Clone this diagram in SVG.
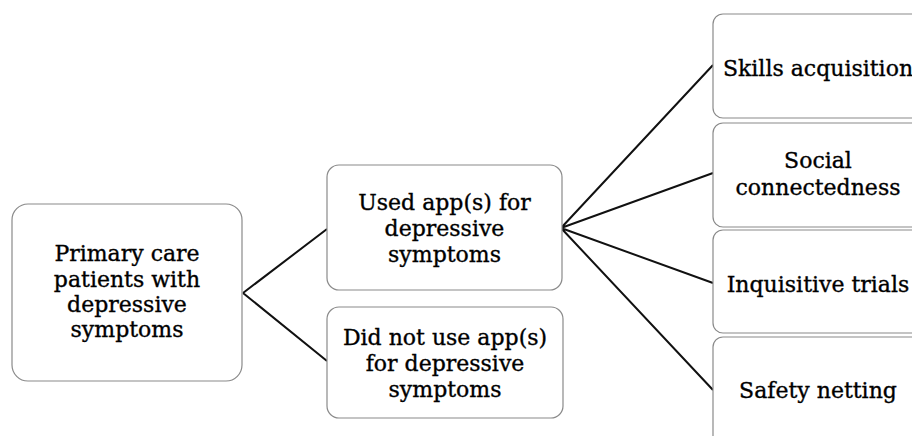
<svg xmlns="http://www.w3.org/2000/svg" width="912" height="436" viewBox="0 0 912 436">
<style>
.box{fill:#fff;stroke:#8a8a8a;stroke-width:1.2}
.t{font-family:"DejaVu Serif","Liberation Serif",serif;font-size:22px;fill:#000;stroke:#000;stroke-width:0.35;text-anchor:middle}
.c{stroke:#111;stroke-width:2;fill:none}
</style>
<rect width="912" height="436" fill="#fff"/>
<g id="connectors">
<path class="c" d="M243 293 L327 229 M243 293 L327 361"/>
<path class="c" d="M561 228 L713 65 M561 228 L713 173 M561 228 L713 283 M561 228 L713 390"/>
</g>
<g id="n1"><rect class="box" x="12" y="204" width="230" height="177" rx="16"/>
<text class="t" x="127" y="261">Primary care</text><text class="t" x="127" y="287">patients with</text><text class="t" x="127" y="312">depressive</text><text class="t" x="127" y="337">symptoms</text></g>
<g id="n2"><rect class="box" x="327" y="165" width="235" height="125" rx="12"/>
<text class="t" x="444.5" y="210">Used app(s) for</text><text class="t" x="444.5" y="236">depressive</text><text class="t" x="444.5" y="262">symptoms</text></g>
<g id="n3"><rect class="box" x="327" y="307" width="236" height="111" rx="12"/>
<text class="t" x="445" y="345">Did not use app(s)</text><text class="t" x="445" y="371">for depressive</text><text class="t" x="445" y="397">symptoms</text></g>
<g id="n4"><rect class="box" x="713" y="14" width="215" height="104" rx="10"/>
<text class="t" x="818" y="76">Skills acquisition</text></g>
<g id="n5"><rect class="box" x="713" y="123" width="215" height="104" rx="10"/>
<text class="t" x="818" y="168">Social</text><text class="t" x="818" y="195">connectedness</text></g>
<g id="n6"><rect class="box" x="713" y="230" width="215" height="103" rx="10"/>
<text class="t" x="818" y="292">Inquisitive trials</text></g>
<g id="n7"><rect class="box" x="713" y="337" width="215" height="120" rx="10"/>
<text class="t" x="818" y="398">Safety netting</text></g>
</svg>
